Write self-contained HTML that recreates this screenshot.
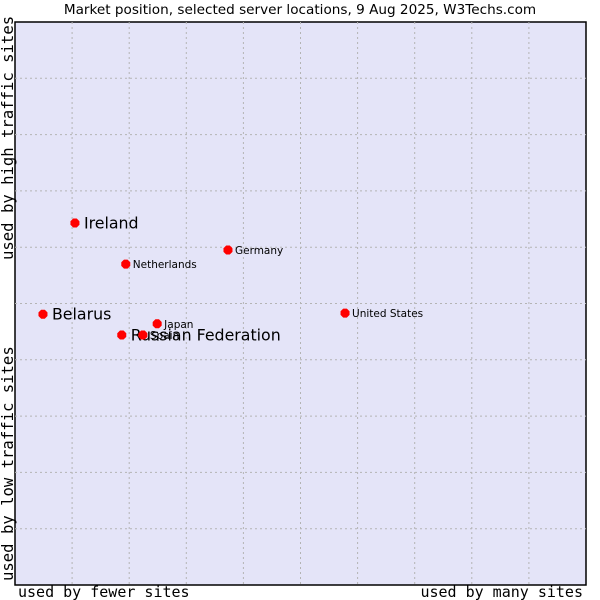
<!DOCTYPE html>
<html><head><meta charset="utf-8"><style>
body{margin:0;background:#fff;width:600px;height:600px;overflow:hidden}
svg{display:block}
</style></head><body>
<svg id="chart" width="600" height="600" xmlns="http://www.w3.org/2000/svg">
<rect width="600" height="600" fill="#fff"/>
<text x="300" y="14" text-anchor="middle" font-family="DejaVu Sans, sans-serif" font-size="13.6" fill="#000">Market position, selected server locations, 9 Aug 2025, W3Techs.com</text>
<rect x="15" y="22" width="571" height="563" fill="#e4e4f8" stroke="#000" stroke-width="1.5"/>
<g id="grid"></g>
<g id="points"></g>
<text x="18" y="597" font-family="DejaVu Sans Mono, monospace" font-size="15">used by fewer sites</text>
<text x="583" y="597" text-anchor="end" font-family="DejaVu Sans Mono, monospace" font-size="15">used by many sites</text>
<text transform="translate(13,260) rotate(-90)" font-family="DejaVu Sans Mono, monospace" font-size="15.6">used by high traffic sites</text>
<text transform="translate(13,581) rotate(-90)" font-family="DejaVu Sans Mono, monospace" font-size="15.6">used by low traffic sites</text>
</svg>
<script>
const names=["Ireland","Netherlands","Germany","Belarus","Japan","Russian Federation","Spain","United States"];
const xVals=[10.5,19.4,37.3,4.9,24.9,18.7,22.4,57.8];
const yVals=[64.3,57.0,59.5,48.1,46.4,44.4,44.4,48.3];
const bigLabel=[true,false,false,true,false,true,false,false];
const L=15,T=22,W=571,H=563;
const sx=v=>L+v/100*W, sy=v=>T+H-v/100*H;
const NS="http://www.w3.org/2000/svg";
const grid=document.getElementById('grid');
for(let i=1;i<10;i++){
  const v=document.createElementNS(NS,'line');
  
  
  v.setAttribute('x1',sx(i*10));v.setAttribute('x2',sx(i*10));v.setAttribute('y1',T);v.setAttribute('y2',T+H);
  v.setAttribute('stroke','#b4b4b4');v.setAttribute('stroke-dasharray','2,3');
  grid.appendChild(v);
  const h=document.createElementNS(NS,'line');
  
  
  h.setAttribute('y1',sy(i*10));h.setAttribute('y2',sy(i*10));h.setAttribute('x1',L);h.setAttribute('x2',L+W);
  h.setAttribute('stroke','#b4b4b4');h.setAttribute('stroke-dasharray','2,3');
  grid.appendChild(h);
}
const pts=document.getElementById('points');
names.forEach((n,i)=>{
  const x=sx(xVals[i]),y=sy(yVals[i]);
  const d=document.createElementNS(NS,'path');
  
  
  d.setAttribute('d',`M${x-5} ${y-2}L${x-2} ${y-5}L${x+2} ${y-5}L${x+5} ${y-2}L${x+5} ${y+2}L${x+2} ${y+5}L${x-2} ${y+5}L${x-5} ${y+2}Z`);
  d.setAttribute('transform',`translate(${x},${y}) scale(0.9) translate(${-x},${-y})`);
  d.setAttribute('fill','#ff0000');
  pts.appendChild(d);
  const t=document.createElementNS(NS,'text');
  
  
  t.setAttribute('x',x+(bigLabel[i]?9:7));
  t.setAttribute('y',y+(bigLabel[i]?5.5:4));
  t.setAttribute('font-family','DejaVu Sans, sans-serif');
  t.setAttribute('font-size',bigLabel[i]?'15.8':'10.5');
  t.setAttribute('fill','#000');
  t.textContent=n;
  pts.appendChild(t);
});
</script>
</body></html>
